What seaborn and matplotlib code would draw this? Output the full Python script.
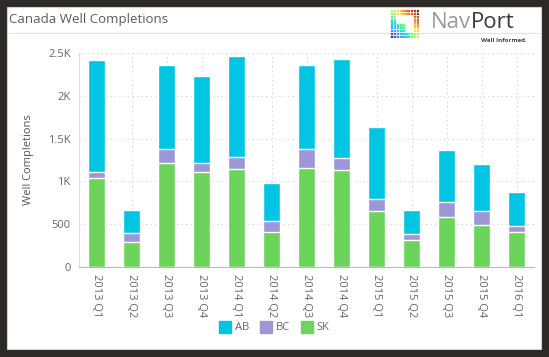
import numpy as np
import pandas as pd
import seaborn as sns
import matplotlib.pyplot as plt
from matplotlib.patches import Rectangle
from matplotlib.lines import Line2D
from matplotlib.ticker import FuncFormatter

# quarterly completions by province
quarters = ["2013 Q1", "2013 Q2", "2013 Q3", "2013 Q4", "2014 Q1", "2014 Q2", "2014 Q3",
            "2014 Q4", "2015 Q1", "2015 Q2", "2015 Q3", "2015 Q4", "2016 Q1"]
sk = [1038, 292, 1219, 1104, 1146, 412, 1154, 1131, 654, 312, 588, 496, 404]
bc = [77, 100, 162, 107, 135, 126, 219, 142, 142, 69, 170, 154, 73]
ab = [1300, 270, 984, 1020, 1180, 447, 981, 1162, 835, 288, 607, 550, 396]

c_ab = "#01c5e2"
c_bc = "#9d97d8"
c_sk = "#6cd45b"

df = pd.DataFrame({"Quarter": quarters, "SK": sk, "BC": bc, "AB": ab})
df["SK_BC"] = df["SK"] + df["BC"]
df["Total"] = df["SK_BC"] + df["AB"]

sns.set_style("white")
plt.rcParams["font.family"] = ["Open Sans", "DejaVu Sans"]

W, H = 549, 357
fig = plt.figure(figsize=(W / 100, H / 100), dpi=100, facecolor="#2e2927")

# white card + header line
fig.patches.append(Rectangle((7 / W, 1 - 349 / H), 534 / W, 342 / H, transform=fig.transFigure,
                             facecolor="white", edgecolor="#cfcfcf", lw=0.8, zorder=-5))
fig.lines.append(Line2D([7 / W, 541 / W], [1 - 33 / H, 1 - 33 / H], transform=fig.transFigure,
                        color="#e2e2e2", lw=0.8, zorder=-4))
fig.text(9 / W, 1 - 19 / H, "Canada Well Completions", fontsize=9.5, color="#5a5a5a",
         va="center", ha="left")

# logo
fig.text(471 / W, 1 - 22 / H, "Nav", fontsize=16, color="#9a9a9a", va="center", ha="right")
fig.text(471 / W, 1 - 22 / H, "Port", fontsize=16, color="#3a3a3a", va="center", ha="left")
fig.text(527 / W, 1 - 40 / H, "Well Informed.", fontsize=4.5, color="#444444", va="center",
         ha="right", fontweight="bold")
lax = fig.add_axes([390 / W, 1 - 38 / H, 29 / W, 29 / H])
g = np.arange(10)
gx, gy = np.meshgrid(g, g)
mask = (gx <= 1) | (gy >= 8) | (gx >= 8) | (gy <= 1) | ((gx < 5) & (gy < 5))
lax.scatter(gx[mask], gy[mask], s=0.8, c=(gx[mask] + gy[mask]), cmap="turbo", marker="s",
            alpha=0.85)
lax.set_xlim(-0.5, 9.5)
lax.set_ylim(-0.5, 9.5)
lax.axis("off")

ax = fig.add_axes([79 / W, 1 - 267 / H, 455 / W, 214 / H])
ax.set_facecolor("none")

bw = 0.49
sns.barplot(data=df, x="Quarter", y="Total", color=c_ab, width=bw, saturation=1,
            edgecolor="white", linewidth=1, ax=ax, zorder=3)
sns.barplot(data=df, x="Quarter", y="SK_BC", color=c_bc, width=bw, saturation=1,
            edgecolor="white", linewidth=1, ax=ax, zorder=3)
sns.barplot(data=df, x="Quarter", y="SK", color=c_sk, width=bw, saturation=1,
            edgecolor="white", linewidth=1, ax=ax, zorder=3)

ax.set_ylim(0, 2500)
ax.set_xlim(-0.5, len(quarters) - 0.5)
ax.set_yticks([0, 500, 1000, 1500, 2000, 2500])
ax.yaxis.set_major_formatter(FuncFormatter(
    lambda v, p: "0" if v == 0 else (f"{v / 1000:g}K" if v >= 1000 else f"{v:.0f}")))
ax.grid(True, color="#cccccc", linestyle=(0, (1, 3)), lw=0.8, zorder=0)
ax.set_axisbelow(True)
ax.tick_params(axis="both", length=0, labelsize=8, labelcolor="#666666", pad=6)
ax.tick_params(axis="x", pad=5)
plt.setp(ax.get_xticklabels(), rotation=-90, va="top", ha="center")
for s in ["top", "right"]:
    ax.spines[s].set_visible(False)
ax.spines["left"].set_color("#dddddd")
ax.spines["bottom"].set_color("#bbbbbb")
ax.set_xlabel("")
ax.set_ylabel("Well Completions", fontsize=8, color="#555555", labelpad=10)

handles = [Line2D([], [], marker="s", ls="none", color=c, markersize=8) for c in (c_ab, c_bc, c_sk)]
fig.legend(handles, ["AB", "BC", "SK"], loc="center", bbox_to_anchor=(0.5, 1 - 328 / H),
           ncol=3, frameon=False, fontsize=8, labelcolor="#666666", handletextpad=0.4,
           columnspacing=1.0, handlelength=1)

fig.savefig("out.png", dpi=100, facecolor=fig.get_facecolor())
